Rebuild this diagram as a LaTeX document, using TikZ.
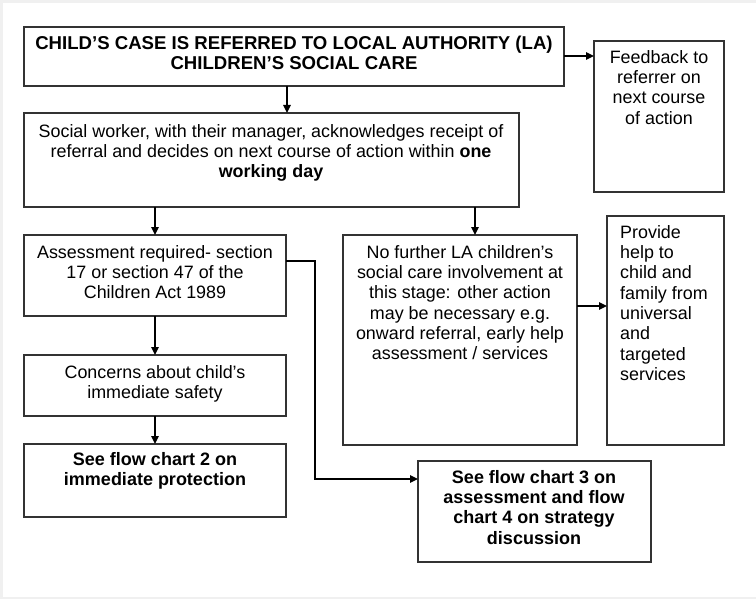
\documentclass[tikz,border=0pt]{standalone}
\usepackage{fontspec}
\setmainfont{Liberation Sans}
\usetikzlibrary{arrows.meta,calc}
\newcommand\fsx{\rule{0pt}{14bp}}
\newcommand\mkbox[5]{\node[box, minimum width={(#4-#2)*1bp}, minimum height={(#5-#3)*1bp}] (#1) at ({(#2+#4)/2},{(#3+#5)/2}) {};}
\tikzset{
  box/.style={draw=black!80, line width=1.5bp, rectangle, inner sep=0pt, outer sep=0pt, fill=white},
  txt/.style={font=\fontsize{17.9bp}{20.3bp}\selectfont, inner sep=0pt, anchor=north, align=center, text=black},
  txtb/.style={txt, font=\fontsize{18bp}{20.3bp}\selectfont\bfseries},
  txth/.style={txt, font=\fontsize{18.6bp}{20bp}\selectfont\bfseries},
  arr/.style={draw=black, line width=1.3bp, -{Triangle[length=8bp,width=7.5bp]}},
}
\begin{document}
\begin{tikzpicture}[x=1bp,y=-1bp]
\useasboundingbox (0,0) rectangle (756,599);
\fill[black!6] (0,0) rectangle (756,599);
\fill[white] (3,3) rectangle (756,597);
% boxes
\mkbox{A}{24}{27}{564}{86}
\mkbox{FB}{594}{41}{724}{192}
\mkbox{SW}{24}{113}{519}{207}
\mkbox{AS}{24}{235}{286}{316}
\mkbox{CO}{24}{355}{286}{416}
\mkbox{F2}{24}{444}{286}{517}
\mkbox{NF}{343}{235}{577}{445}
\mkbox{PH}{607}{216}{724}{445}
\mkbox{F3}{418}{461}{651}{562}
% texts
\node[txth] (tA) at (294,35) {\fsx CHILD’S CASE IS REFERRED TO LOCAL AUTHORITY (LA)\\CHILDREN’S SOCIAL CARE};
\node[txt] (tFB) at (659,49) {\fsx Feedback to\\referrer on\\next course\\of action};
\node[txt] (tSW) at (271,123) {\fsx Social worker, with their manager, acknowledges receipt of\\referral and decides on next course of action within \textbf{one}\\\textbf{working day}};
\node[txt] (tAS) at (155,244) {\fsx Assessment required- section\\17 or section 47 of the\\Children Act 1989};
\node[txt] (tCO) at (155,364) {\fsx Concerns about child’s\\immediate safety};
\node[txtb] (tF2) at (155,451) {\fsx See flow chart 2 on\\immediate protection};
\node[txt] (tNF) at (460,244) {\fsx No further LA children’s\\social care involvement at\\this stage: other action\\may be necessary e.g.\\onward referral, early help\\assessment / services};
\node[txt, anchor=north west, align=left] (tPH) at (620,224) {\fsx Provide\\help to\\child and\\family from\\universal\\and\\targeted\\services};
\node[txtb] (tF3) at (534,469) {\fsx See flow chart 3 on\\assessment and flow\\chart 4 on strategy\\discussion};
% connector coordinates
\coordinate (cx1) at (287,0);
\coordinate (cx2) at (475,0);
\coordinate (cy1) at (0,261);
\coordinate (cx3) at (315,0);
\coordinate (cy2) at (0,479);
\coordinate (cy3) at (0,306);
\coordinate (cy4) at (0,56);
% connectors
\draw[arr] (cy4 -| A.east) -- (cy4 -| FB.west);
\draw[arr] (cx1 |- A.south) -- (cx1 |- SW.north);
\draw[arr] (SW.south -| AS.north) -- (AS.north);
\draw[arr] (cx2 |- SW.south) -- (cx2 |- NF.north);
\draw[arr] (AS.south) -- (CO.north);
\draw[arr] (CO.south) -- (F2.north);
\draw[arr] (cy1 -| AS.east) -- (cy1 -| cx3) -- (cy2 -| cx3) -- (cy2 -| F3.west);
\draw[arr] (cy3 -| NF.east) -- (cy3 -| PH.west);
\end{tikzpicture}
\end{document}
